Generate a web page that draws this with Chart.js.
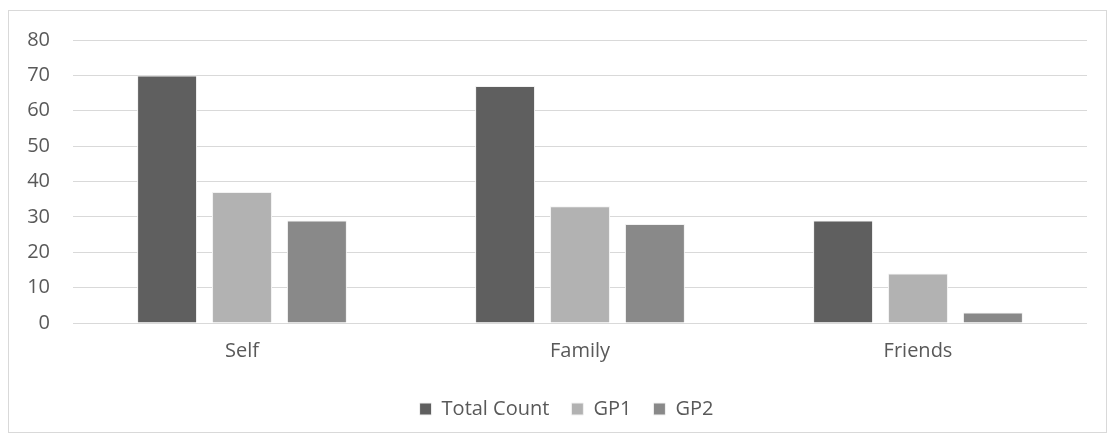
<!DOCTYPE html>
<html>
<head>
<meta charset="utf-8">
<script src="https://cdn.jsdelivr.net/npm/chart.js@4"></script>
<style>
  body { margin: 0; background: #fff; }
  #frame { position: absolute; left: 8px; top: 10px; width: 1097px; height: 421px; border: 1px solid #d9d9d9; }
  #wrap { position: absolute; left: 0; top: 0; width: 1110px; height: 440px; }
</style>
</head>
<body>
<div id="frame"></div>
<div id="wrap"><canvas id="countChart" width="1110" height="440"></canvas></div>
<script>
const categories = ["Self", "Family", "Friends"];
const totalCount = [70, 67, 29];
const gp1 = [37, 33, 14];
const gp2 = [29, 28, 3];
const yTicks = [0, 10, 20, 30, 40, 50, 60, 70, 80];

const textColor = "#595959";
const font = { family: "'Open Sans', 'Liberation Sans', sans-serif", size: 20 };

function bars(label, data, color) {
  return {
    label: label,
    data: data,
    backgroundColor: color,
    borderColor: "#f2f2f2",
    borderWidth: 1,
    barPercentage: 0.8,
    categoryPercentage: 0.665,
  };
}

// nudge the legend row a little right of the canvas centre
const legendShift = {
  id: "legendShift",
  afterLayout(chart) {
    chart.legend.left += 13;
    chart.legend.right += 13;
  },
};

new Chart(document.getElementById("countChart"), {
  type: "bar",
  data: {
    labels: categories,
    datasets: [
      bars("Total Count", totalCount, "#5f5f5f"),
      bars("GP1", gp1, "#b2b2b2"),
      bars("GP2", gp2, "#898989"),
    ],
  },
  plugins: [legendShift],
  options: {
    responsive: false,
    animation: false,
    layout: { padding: { left: 20, right: 23, top: 40, bottom: 11 } },
    plugins: {
      tooltip: { enabled: false },
      legend: {
        position: "bottom",
        labels: {
          color: textColor,
          font: font,
          boxWidth: 12,
          boxHeight: 12,
          padding: 22,
        },
      },
    },
    scales: {
      x: {
        grid: { display: false },
        border: { display: false },
        ticks: { color: textColor, font: font, padding: 8 },
        afterFit: (s) => { s.height = 54; },
      },
      y: {
        min: 0,
        max: 80,
        afterBuildTicks: (s) => { s.ticks = yTicks.map((v) => ({ value: v })); },
        grid: { color: "#d9d9d9", lineWidth: 1, drawTicks: false },
        border: { display: false },
        ticks: { color: textColor, font: font, padding: 23 },
        afterFit: (s) => { s.width = 53; },
      },
    },
  },
});
</script>
</body>
</html>
